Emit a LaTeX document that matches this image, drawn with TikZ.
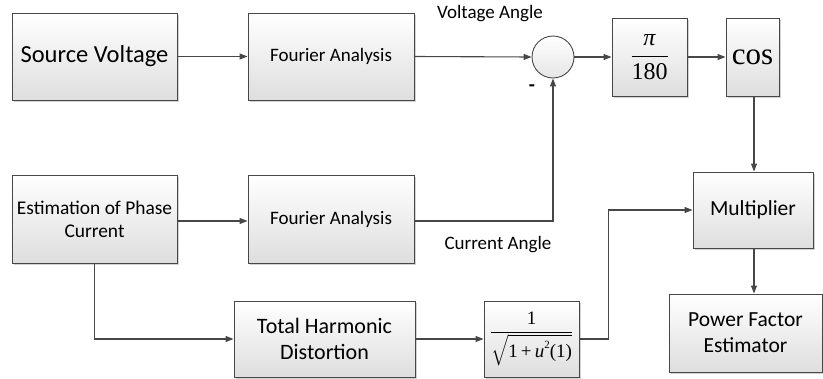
\documentclass[tikz,border=0pt]{standalone}
\usepackage{amsmath}
\usepackage{fontspec}
\setmainfont{Carlito}
\newfontfamily\timesfont{Liberation Serif}
\usetikzlibrary{arrows.meta,shadows}

\begin{document}
\begin{tikzpicture}[x=1pt,y=-1pt,->,>={Triangle[length=8pt,width=6pt]},
	line width=1.1pt,draw=black!72,
	block/.style={rectangle,draw=black!72,line width=0.9pt,top color=white,bottom color=black!13,
		drop shadow={shadow xshift=1.6pt,shadow yshift=-1.6pt,opacity=0.35,fill=black!50},
		inner sep=0pt,align=center,text=black},
	label text/.style={font=\fontsize{19}{22}\selectfont,text=black}]
	
	\useasboundingbox (0,0) rectangle (823,378);
	
	% top row
	\node[block,minimum width=165pt,minimum height=87pt,font=\fontsize{24.5}{28}\selectfont] (src) at (94.5,56.5) {Source Voltage};
	\node[block,minimum width=166pt,minimum height=87pt,font=\fontsize{19}{22}\selectfont] (fa1) at (331,56.5) {Fourier Analysis};
	\node[circle,draw=black!72,line width=0.9pt,top color=white,bottom color=black!10,minimum size=42pt,inner sep=0pt] (sum) at (553,57) {};
	\node[block,minimum width=75pt,minimum height=78pt,font=\fontsize{24}{28}\selectfont\timesfont] (deg) at (649.5,57)
		{$\dfrac{\text{\timesfont\itshape π}}{\text{\timesfont 180}}$};
	\node[block,minimum width=53pt,minimum height=78pt,font=\fontsize{31}{36}\selectfont\timesfont] (cosb) at (752.5,57) {cos};
	
	% middle row
	\node[block,minimum width=165pt,minimum height=88pt,font=\fontsize{19.4}{23}\selectfont] (est) at (94.5,219) {Estimation of Phase\\Current};
	\node[block,minimum width=166pt,minimum height=88pt,font=\fontsize{19}{22}\selectfont] (fa2) at (331,219) {Fourier Analysis};
	\node[block,minimum width=120pt,minimum height=76pt,font=\fontsize{21.5}{26}\selectfont] (mult) at (753,210) {Multiplier};
	
	% bottom row
	\node[block,minimum width=181pt,minimum height=76pt,font=\fontsize{22}{26}\selectfont] (thd) at (324.5,339) {Total Harmonic\\Distortion};
	\node[block,minimum width=95pt,minimum height=76pt,font=\fontsize{19}{22}\selectfont\timesfont] (inv) at (531.5,339)
		{$\dfrac{\text{\timesfont 1}}{\sqrt{\text{\timesfont 1\,+\,\itshape u\upshape\raisebox{0.45em}{\fontsize{11}{11}\selectfont 2}(1)}}}$};
	\node[block,minimum width=153pt,minimum height=78pt,font=\fontsize{21.5}{26}\selectfont] (pfe) at (745.5,333) {Power Factor\\Estimator};
	
	% labels
	\node[label text] (va) at (490,14) {Voltage Angle};
	\node[label text] (ca) at (498,245) {Current Angle};
	\node[font=\fontsize{20}{20}\selectfont\bfseries,text=black] (minus) at (532,88) {-};
	
	\draw (src) -- (fa1);
	\draw (fa1.east) -- (sum.west);
	\draw (sum.east) -- (deg.west);
	\draw (deg.east) -- (cosb.west);
	\draw ([yshift=-2pt]est.east) -- ([yshift=-2pt]fa2.west);
	\draw ([yshift=-2pt]fa2.east) -| (sum.south);
	\draw (est.south) |- (thd.west);
	\draw (thd.east) -- (inv.west);
	\draw (inv.east) -- ++(29,0) |- (mult.west);
	\draw ([xshift=1.5pt]cosb.south) -- ([xshift=1.5pt]cosb.south |- mult.north);
	\draw ([xshift=1pt]mult.south) -- ([xshift=1pt]mult.south |- pfe.north);
	
\end{tikzpicture}
\end{document}
